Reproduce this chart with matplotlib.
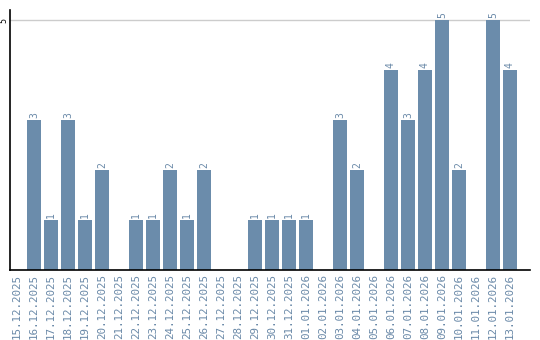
import matplotlib
matplotlib.use("Agg")
import matplotlib.pyplot as plt

dates = ["15.12.2025", "16.12.2025", "17.12.2025", "18.12.2025", "19.12.2025",
         "20.12.2025", "21.12.2025", "22.12.2025", "23.12.2025", "24.12.2025",
         "25.12.2025", "26.12.2025", "27.12.2025", "28.12.2025", "29.12.2025",
         "30.12.2025", "31.12.2025", "01.01.2026", "02.01.2026", "03.01.2026",
         "04.01.2026", "05.01.2026", "06.01.2026", "07.01.2026", "08.01.2026",
         "09.01.2026", "10.01.2026", "11.01.2026", "12.01.2026", "13.01.2026"]
counts = [0, 3, 1, 3, 1, 2, 0, 1, 1, 2, 1, 2, 0, 0, 1,
          1, 1, 1, 0, 3, 2, 0, 4, 3, 4, 5, 2, 0, 5, 4]

bar_col = "#6b8cab"
txt_col = "#6a89a8"

fig = plt.figure(figsize=(5.4, 3.4), dpi=100)
ax = fig.add_axes([10 / 540, 70 / 340, 520 / 540, 260 / 340])

x = list(range(len(dates)))
ax.bar(x, counts, width=0.82, color=bar_col, zorder=2)
for xi, v in zip(x, counts):
    if v > 0:
        ax.text(xi, v + 0.05, str(v), rotation=90, ha="center", va="bottom",
                fontsize=7, color=txt_col, family="DejaVu Sans Mono")

ax.set_xlim(-0.41, 30.18)
ax.set_ylim(0, 5.2)
ax.axhline(5, color="#cccccc", lw=1, zorder=1)

ax.set_xticks(x)
ax.set_xticklabels(dates, rotation=90, fontsize=7.8, color=txt_col,
                   family="DejaVu Sans Mono")
ax.tick_params(axis="x", length=0, pad=3)
ax.set_yticks([5])
ax.set_yticklabels(["5"], rotation=90, fontsize=6, va="center",
                   family="DejaVu Sans Mono")
ax.tick_params(axis="y", length=0, pad=1)

for s in ["top", "right"]:
    ax.spines[s].set_visible(False)
ax.spines["left"].set_linewidth(1.2)
ax.spines["bottom"].set_linewidth(1.2)

plt.savefig("out.png", dpi=100)
plt.close()
